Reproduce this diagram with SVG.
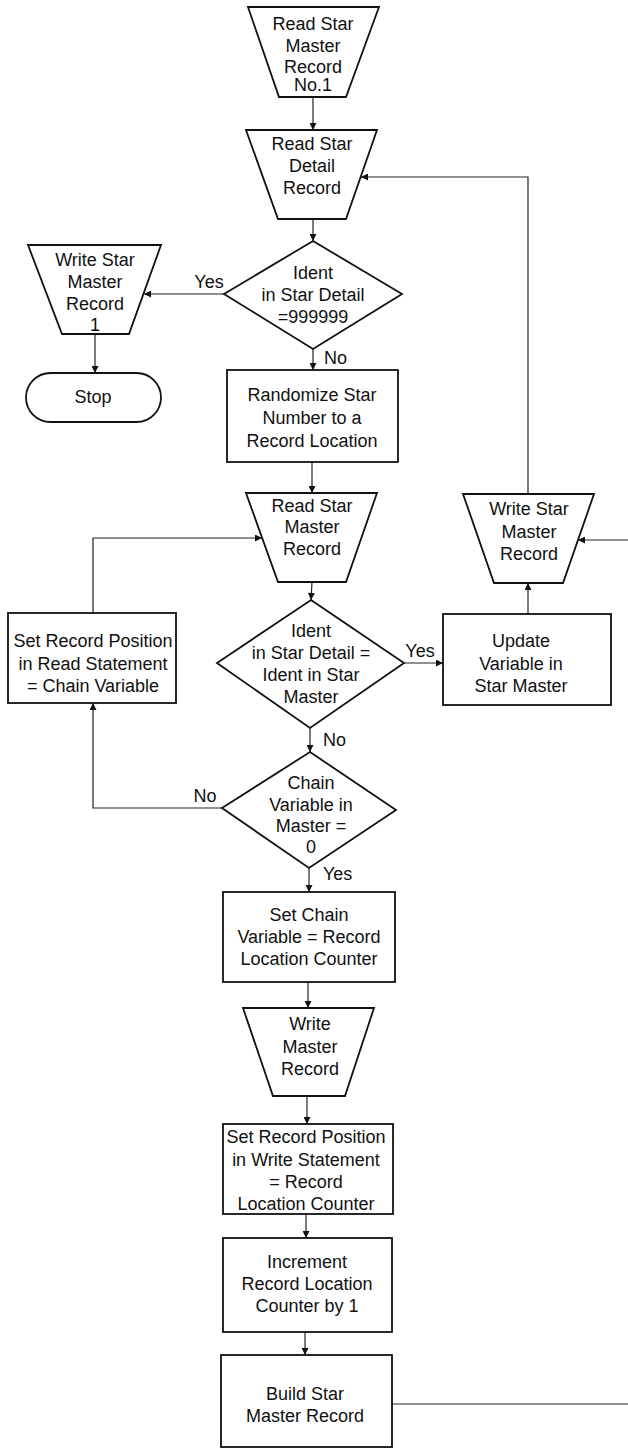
<svg xmlns="http://www.w3.org/2000/svg" width="628" height="1449" viewBox="0 0 628 1449">
<style>
.s{fill:#fff;stroke:#111;stroke-width:1.8;stroke-linejoin:miter}
.c{fill:none;stroke:#222;stroke-width:1.2}
.a{marker-end:url(#ah)}
text{font-family:"Liberation Sans",Arial,sans-serif;font-size:18px;fill:#111;text-anchor:middle}
.l{text-anchor:start}
</style>
<defs>
<marker id="ah" viewBox="0 0 10 10" refX="10" refY="5" markerUnits="userSpaceOnUse" markerWidth="10" markerHeight="7" orient="auto">
<path d="M0,0 L10,5 L0,10 z" fill="#111"/>
</marker>
</defs>
<rect width="628" height="1449" fill="#fff"/>
<g id="connectors">
<line class="c a" x1="313" y1="97" x2="313" y2="130"/>
<line class="c a" x1="313" y1="219" x2="313" y2="241"/>
<line class="c a" x1="224" y1="294" x2="144" y2="294"/>
<line class="c a" x1="95" y1="334" x2="95" y2="373"/>
<line class="c a" x1="313" y1="349" x2="313" y2="370"/>
<line class="c a" x1="312" y1="462" x2="312" y2="493"/>
<line class="c a" x1="312" y1="582" x2="311" y2="600"/>
<line class="c a" x1="404" y1="663" x2="443" y2="663"/>
<line class="c a" x1="528" y1="614" x2="528" y2="583"/>
<path class="c a" d="M528,494 V177 H361"/>
<line class="c a" x1="628" y1="540" x2="578" y2="540"/>
<line class="c a" x1="310" y1="728" x2="310" y2="752"/>
<path class="c a" d="M222,808 H93 V703"/>
<path class="c a" d="M93,613 V538 H262"/>
<line class="c a" x1="309" y1="868" x2="309" y2="892"/>
<line class="c a" x1="308" y1="982" x2="308" y2="1008"/>
<line class="c a" x1="307" y1="1096" x2="307" y2="1124"/>
<line class="c a" x1="306" y1="1214" x2="306" y2="1238"/>
<line class="c a" x1="305" y1="1332" x2="305" y2="1355"/>
<line class="c" x1="392" y1="1404" x2="628" y2="1404"/>
</g>
<g id="n1">
<polygon class="s" points="248,7 379,7 346,97 279,97"/>
<text x="313" y="30">Read Star</text><text x="313" y="52">Master</text><text x="313" y="73">Record</text><text x="313" y="91">No.1</text>
</g>
<g id="n2">
<polygon class="s" points="246,130 377,130 346,219 278,219"/>
<text x="312" y="150">Read Star</text><text x="312" y="172">Detail</text><text x="312" y="194">Record</text>
</g>
<g id="d1">
<polygon class="s" points="313,241 402,294 313,349 224,294"/>
<text x="313" y="279">Ident</text><text x="313" y="301">in Star Detail</text><text x="313" y="323">=999999</text>
<text x="209" y="288">Yes</text>
<text class="l" x="324" y="364">No</text>
</g>
<g id="n3">
<polygon class="s" points="28,245 161,245 129,334 62,334"/>
<text x="95" y="266">Write Star</text><text x="95" y="288">Master</text><text x="95" y="310">Record</text><text x="95" y="331">1</text>
</g>
<g id="stop">
<rect class="s" x="26" y="373" width="135" height="49" rx="24.5"/>
<text x="93" y="403">Stop</text>
</g>
<g id="n4">
<rect class="s" x="227" y="370" width="171" height="92"/>
<text x="312" y="401">Randomize Star</text><text x="312" y="424">Number to a</text><text x="312" y="447">Record Location</text>
</g>
<g id="n5">
<polygon class="s" points="246,493 377,493 346,582 278,582"/>
<text x="312" y="512">Read Star</text><text x="312" y="533">Master</text><text x="312" y="555">Record</text>
</g>
<g id="n6">
<polygon class="s" points="463,494 594,494 563,583 494,583"/>
<text x="529" y="515">Write Star</text><text x="529" y="538">Master</text><text x="529" y="560">Record</text>
</g>
<g id="n7">
<rect class="s" x="443" y="614" width="168" height="91"/>
<text x="521" y="647">Update</text><text x="521" y="670">Variable in</text><text x="521" y="692">Star Master</text>
</g>
<g id="n8">
<rect class="s" x="8" y="613" width="168" height="90"/>
<text x="93" y="647">Set Record Position</text><text x="93" y="670">in Read Statement</text><text x="93" y="692">= Chain Variable</text>
</g>
<g id="d2">
<polygon class="s" points="311,600 404,663 310,728 217,663"/>
<text x="311" y="637">Ident</text><text x="311" y="659">in Star Detail =</text><text x="311" y="681">Ident in Star</text><text x="311" y="703">Master</text>
<text x="420" y="657">Yes</text>
<text class="l" x="323" y="746">No</text>
</g>
<g id="d3">
<polygon class="s" points="310,752 396,810 309,868 222,808"/>
<text x="311" y="789">Chain</text><text x="311" y="811">Variable in</text><text x="311" y="832">Master =</text><text x="311" y="853">0</text>
<text x="205" y="802">No</text>
<text class="l" x="323" y="880">Yes</text>
</g>
<g id="n9">
<rect class="s" x="223" y="892" width="172" height="90"/>
<text x="309" y="921">Set Chain</text><text x="309" y="943">Variable = Record</text><text x="309" y="965">Location Counter</text>
</g>
<g id="n10">
<polygon class="s" points="243,1008 374,1008 345,1096 273,1096"/>
<text x="310" y="1030">Write</text><text x="310" y="1053">Master</text><text x="310" y="1075">Record</text>
</g>
<g id="n11">
<rect class="s" x="223" y="1124" width="170" height="90"/>
<text x="306" y="1143">Set Record Position</text><text x="306" y="1166">in Write Statement</text><text x="306" y="1188">= Record</text><text x="306" y="1210">Location Counter</text>
</g>
<g id="n12">
<rect class="s" x="223" y="1238" width="169" height="94"/>
<text x="307" y="1268">Increment</text><text x="307" y="1290">Record Location</text><text x="307" y="1312">Counter by 1</text>
</g>
<g id="n13">
<rect class="s" x="221" y="1355" width="171" height="92"/>
<text x="305" y="1400">Build Star</text><text x="305" y="1422">Master Record</text>
</g>
</svg>
